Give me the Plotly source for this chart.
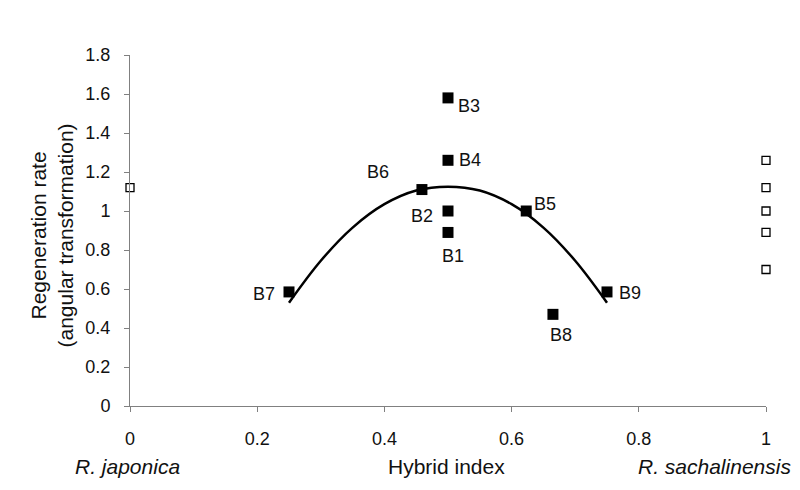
import plotly.graph_objects as go

# Hybrid (B) individuals
hyb_names = ["B1", "B2", "B3", "B4", "B5", "B6", "B7", "B8", "B9"]
hyb_x = [0.5, 0.5, 0.5, 0.5, 0.623, 0.459, 0.25, 0.665, 0.75]
hyb_y = [0.89, 1.0, 1.58, 1.26, 1.0, 1.11, 0.585, 0.47, 0.585]

# Parental species
jap_x = [0.0]
jap_y = [1.12]
sach_x = [1.0, 1.0, 1.0, 1.0, 1.0]
sach_y = [1.26, 1.12, 1.0, 0.89, 0.70]

# Fitted trend curve
curve_x = [0.25, 0.30, 0.35, 0.40, 0.45, 0.50, 0.55, 0.60, 0.65, 0.70, 0.75]
curve_y = [0.53, 0.745, 0.915, 1.035, 1.105, 1.125, 1.105, 1.035, 0.915, 0.745, 0.53]

y_ticks = [0, 0.2, 0.4, 0.6, 0.8, 1.0, 1.2, 1.4, 1.6, 1.8]
y_tick_text = ["0", "0.2", "0.4", "0.6", "0.8", "1", "1.2", "1.4", "1.6", "1.8"]
x_ticks = [0, 0.2, 0.4, 0.6, 0.8, 1.0]
x_tick_text = ["0", "0.2", "0.4", "0.6", "0.8", "1"]

FONT = "Liberation Sans, Arial, sans-serif"
TXT = "#111111"

fig = go.Figure()
fig.add_trace(go.Scatter(x=curve_x, y=curve_y, mode="lines",
                         line=dict(color="black", width=2.5, shape="spline"),
                         hoverinfo="skip", showlegend=False))
fig.add_trace(go.Scatter(x=hyb_x, y=hyb_y, mode="markers",
                         marker=dict(symbol="square", size=11, color="black", line=dict(width=0)),
                         showlegend=False, cliponaxis=False))
fig.add_trace(go.Scatter(x=jap_x + sach_x, y=jap_y + sach_y, mode="markers",
                         marker=dict(symbol="square", size=8, color="white",
                                     line=dict(color="black", width=1.3)),
                         showlegend=False, cliponaxis=False))

# label offsets (pixels) for each hybrid name
offsets = {
    "B1": (5, -24), "B2": (-26, -5), "B3": (21, -8), "B4": (22, 0),
    "B5": (19, 7), "B6": (-44, 18), "B7": (-25, -2), "B8": (8, -21), "B9": (23, -1),
}
for n, x, y in zip(hyb_names, hyb_x, hyb_y):
    dx, dy = offsets[n]
    fig.add_annotation(x=x, y=y, xref="x", yref="y", text=n, showarrow=False,
                       xshift=dx, yshift=dy, font=dict(size=18, color=TXT, family=FONT))

bottom_y = -60 / 351
fig.add_annotation(x=0.5, y=bottom_y, xref="x", yref="paper", yanchor="middle",
                   text="Hybrid index", showarrow=False, xshift=-2,
                   font=dict(size=21, color=TXT, family=FONT))
fig.add_annotation(x=0.0, y=bottom_y, xref="x", yref="paper", yanchor="middle",
                   text="<i>R. japonica</i>", showarrow=False, xshift=-3,
                   font=dict(size=21, color=TXT, family=FONT))
fig.add_annotation(x=1.0, y=bottom_y, xref="x", yref="paper", yanchor="middle",
                   text="<i>R. sachalinensis</i>", showarrow=False, xshift=-52,
                   font=dict(size=21, color=TXT, family=FONT))
fig.add_annotation(x=0, y=0.5, xref="paper", yref="paper", xanchor="center", yanchor="middle",
                   text="Regeneration rate<br>(angular transformation)", showarrow=False,
                   textangle=-90, xshift=-79, yshift=-5,
                   font=dict(size=21, color=TXT, family=FONT))

fig.update_xaxes(range=[0, 1], tickvals=x_ticks, ticktext=x_tick_text, showgrid=False,
                 zeroline=False, showline=True, linecolor="#808080", linewidth=1,
                 ticks="outside", ticklen=5, tickcolor="#808080", ticklabelstandoff=11,
                 tickfont=dict(size=18, color=TXT, family=FONT))
fig.update_yaxes(range=[0, 1.8], tickvals=y_ticks, ticktext=y_tick_text, showgrid=False,
                 zeroline=False, showline=True, linecolor="#808080", linewidth=1,
                 ticks="outside", ticklen=5, tickcolor="#808080", ticklabelstandoff=10,
                 tickfont=dict(size=18, color=TXT, family=FONT))

fig.update_layout(width=800, height=490, margin=dict(l=130, r=34, t=55, b=84),
                  plot_bgcolor="white", paper_bgcolor="white", font=dict(family=FONT))
fig.write_html("out.html")
